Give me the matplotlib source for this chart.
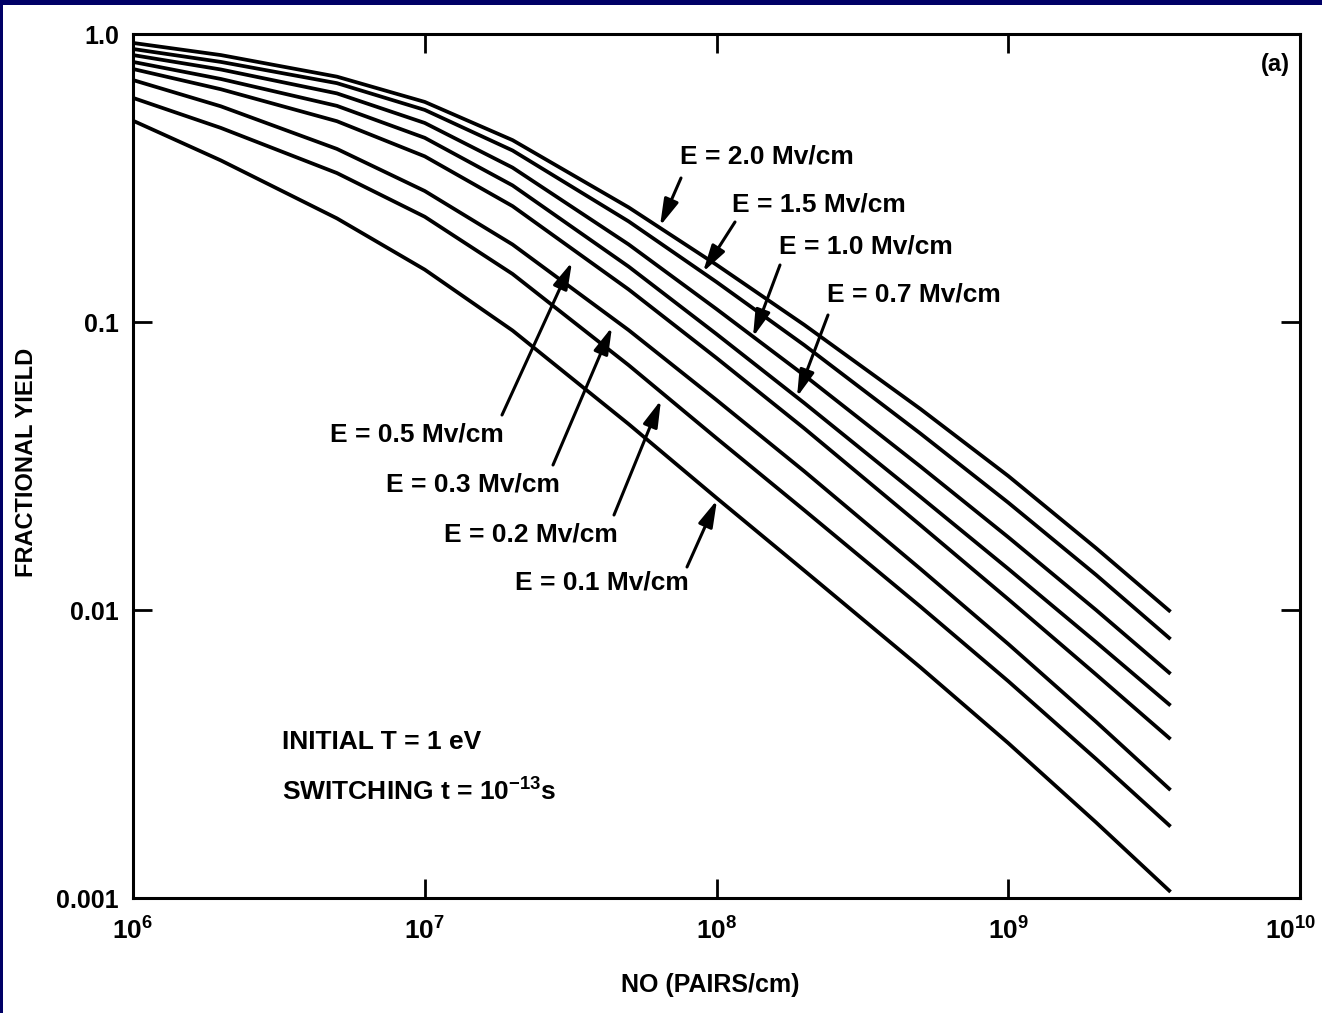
import matplotlib
matplotlib.use("Agg")
import matplotlib.pyplot as plt
import matplotlib.transforms as mtransforms

font = "Liberation Sans"
plt.rcParams["font.family"] = [font, "DejaVu Sans"]
plt.rcParams["font.weight"] = "bold"
plt.rcParams["mathtext.fontset"] = "custom"
plt.rcParams["mathtext.rm"] = font + ":bold"
plt.rcParams["mathtext.it"] = font + ":bold"
plt.rcParams["mathtext.bf"] = font + ":bold"
plt.rcParams["mathtext.default"] = "regular"

# data
n0 = [1e6, 2e6, 5e6, 1e7, 2e7, 5e7, 1e8, 2e8, 5e8, 1e9, 2e9, 3.6e9]
fields = ["2.0", "1.5", "1.0", "0.7", "0.5", "0.3", "0.2", "0.1"]
y_e20 = [0.931, 0.845, 0.711, 0.581, 0.428, 0.250, 0.158, 0.0977, 0.0499, 0.0292, 0.0164, 0.00986]
y_e15 = [0.887, 0.800, 0.675, 0.545, 0.394, 0.2235, 0.1377, 0.0831, 0.0410, 0.0236, 0.01324, 0.00792]
y_e10 = [0.845, 0.753, 0.622, 0.491, 0.3436, 0.1859, 0.1109, 0.0653, 0.0315, 0.0179, 0.0100, 0.0060]
y_e07 = [0.800, 0.698, 0.563, 0.436, 0.298, 0.1557, 0.0908, 0.0523, 0.0247, 0.0139, 0.00773, 0.00466]
y_e05 = [0.756, 0.643, 0.498, 0.376, 0.2525, 0.1297, 0.0750, 0.0427, 0.0197, 0.0109, 0.00597, 0.00356]
y_e03 = [0.692, 0.561, 0.399, 0.285, 0.1858, 0.0937, 0.0536, 0.0303, 0.01389, 0.00762, 0.00409, 0.00237]
y_e02 = [0.600, 0.472, 0.329, 0.232, 0.1468, 0.0708, 0.0395, 0.0222, 0.01028, 0.00566, 0.00304, 0.00177]
y_e01 = [0.500, 0.364, 0.229, 0.152, 0.0934, 0.0442, 0.0245, 0.0137, 0.00632, 0.00345, 0.00183, 0.00105]
curves = [y_e20, y_e15, y_e10, y_e07, y_e05, y_e03, y_e02, y_e01]

xticks = [1e6, 1e7, 1e8, 1e9, 1e10]
xticklabels = ["$10^{6}$", "$10^{7}$", "$10^{8}$", "$10^{9}$", "$10^{10}$"]
yticks = [0.001, 0.01, 0.1, 1.0]
yticklabels = ["0.001", "0.01", "0.1", "1.0"]

W, H = 1322, 1013
fig = plt.figure(figsize=(W / 100, H / 100), dpi=100)
fig.patch.set_facecolor("#000066")
# white page, navy strip on top and left
fig.add_artist(plt.Rectangle((3 / W, 0), 1, 1 - 5 / H, transform=fig.transFigure,
                             facecolor="white", edgecolor="none", zorder=-10))

L, R, T, B = 133, 1300, 34, 898
ax = fig.add_axes([L / W, 1 - B / H, (R - L) / W, (B - T) / H])
ax.set_xscale("log")
ax.set_yscale("log")
ax.set_xlim(1e6, 1e10)
ax.set_ylim(0.001, 1.0)

for y in curves:
    ax.plot(n0, y, color="black", lw=2.7, solid_capstyle="butt")

for s in ax.spines.values():
    s.set_linewidth(2.2)

ax.set_xticks(xticks)
ax.set_xticklabels(xticklabels, fontsize=19)
ax.set_yticks(yticks)
ax.set_yticklabels(yticklabels, fontsize=18)
ax.minorticks_off()
ax.tick_params(which="both", direction="in", length=14, width=2, top=True, right=True)
ax.tick_params(axis="x", pad=14)
ax.tick_params(axis="y", pad=10)
# last x label sits a little left so it stays on the page
last = ax.get_xticklabels()[-1]
last.set_transform(last.get_transform() + mtransforms.ScaledTranslation(-9 / 100, 0, fig.dpi_scale_trans))

fig.text(27 / W, 1 - 462 / H, "FRACTIONAL YIELD", rotation=90, fontsize=17,
         ha="center", va="center")
fig.text(710 / W, 1 - 985 / H, "NO (PAIRS/cm)", fontsize=18, ha="center", va="center")


def px(x, y):
    # figure pixel (from top-left) to data coords
    xd = 10 ** (6 + 4 * (x - L) / (R - L))
    yd = 10 ** (-3 * (y - T) / (B - T))
    return xd, yd


# label text position (left, middle) and arrow tail / tip in pixels
labels = [
    ("2.0", (680, 156), (681, 178), (660, 226)),
    ("1.5", (732, 204), (735, 222), (703, 272)),
    ("1.0", (779, 246), (780, 265), (753, 337)),
    ("0.7", (827, 294), (828, 315), (797, 397)),
    ("0.5", (330, 434), (502, 415), (572, 262)),
    ("0.3", (386, 484), (553, 465), (612, 327)),
    ("0.2", (444, 534), (614, 515), (661, 400)),
    ("0.1", (515, 583), (687, 567), (717, 500)),
]
for e, tpos, tail, tip in labels:
    ax.text(*px(*tpos), "E = " + e + " Mv/cm", fontsize=19, ha="left", va="center")
    ax.annotate("", xy=px(*tip), xytext=px(*tail),
                arrowprops=dict(arrowstyle="-|>,head_length=0.9,head_width=0.25",
                                color="black", lw=2.2, mutation_scale=18,
                                shrinkA=0, shrinkB=0))

ax.text(*px(282, 742), "INITIAL T = 1 eV", fontsize=19, ha="left", va="center")
ax.text(*px(282, 792), "SWITCHING t = 10$^{-13}$s", fontsize=19, ha="left", va="center")
ax.text(*px(1290, 65), "(a)", fontsize=17, ha="right", va="center")

fig.savefig("out.png", dpi=100, facecolor=fig.get_facecolor())
